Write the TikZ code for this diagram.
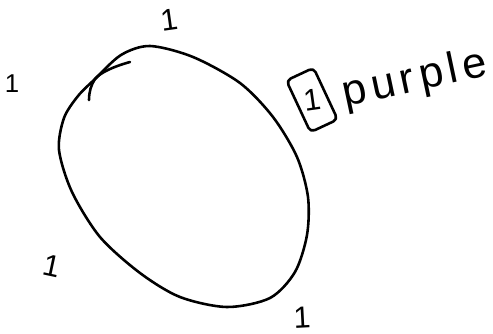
\documentclass[tikz,border=0pt]{standalone}
\usepackage{fontspec}
\setmainfont{Liberation Sans}
\tikzset{
	ink/.style={line width=2.2pt, line cap=round, line join=round},
	digit/.style={inner sep=0pt, font=\fontsize{26}{26}\selectfont}
}
\begin{document}
\begin{tikzpicture}[x=0.03cm, y=-0.03cm]
			\useasboundingbox (0,0) rectangle (493,334);
			% the loop
			\draw[ink] plot[smooth cycle] coordinates {(150,46) (193,57) (240,83) (273,117) (297,157) (308,197) (307,235) (295,272) (270,298) (227,307) (180,297) (140,273) (100,237) (72,192) (59,150) (64,118) (78,96) (95,79) (121,55)};
			\draw[ink] (130,62) .. controls (112,67) and (100,73) .. (95,79) .. controls (91,85) and (89,92) .. (89,100);
			% the marks
			\node[digit, rotate=8](t1) at (169,20){1};
			\node[digit, font=\fontsize{22}{22}\selectfont](t2) at (12,84){1};
			\node[digit, rotate=-12](t3) at (52,266){1};
			\node[digit, rotate=3](t4) at (302,318){1};
			\node[draw, ink, rounded corners=4pt, minimum width=30*0.03cm, minimum height=57*0.03cm, rotate=25](box) at (312,100){};
			\node[digit, rotate=8](t5) at (box.center){1};
			\node[inner sep=0pt, rotate=12, font=\fontsize{37}{37}\selectfont\addfontfeature{LetterSpace=12}](word) at (415,80){purple};
\end{tikzpicture}
\end{document}
